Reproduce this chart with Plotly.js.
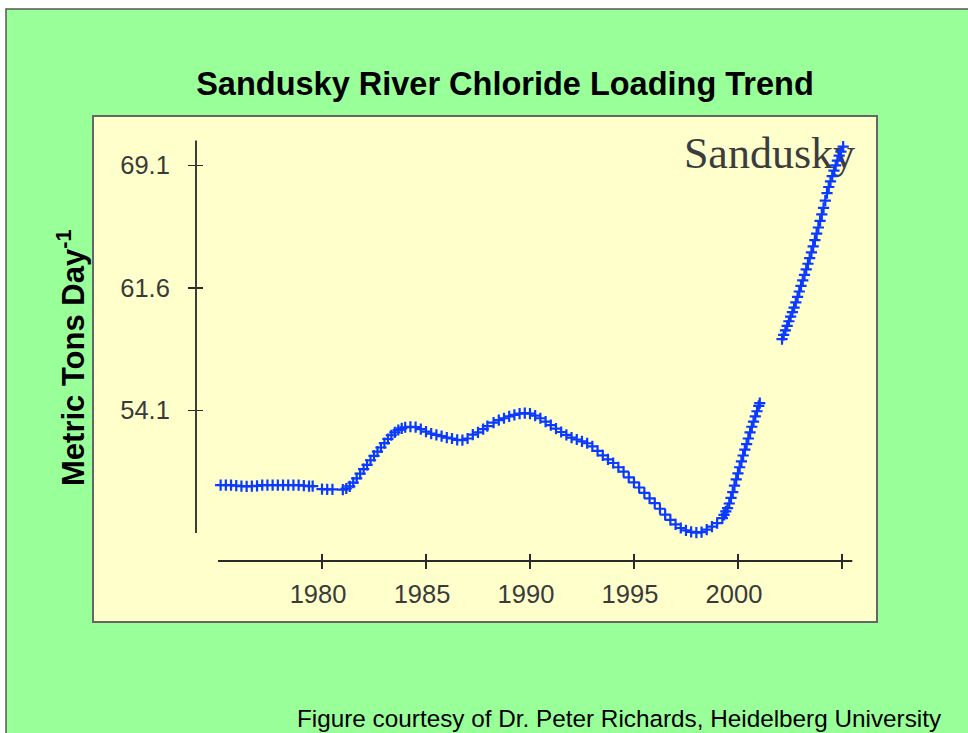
<!DOCTYPE html>
<html>
<head>
<meta charset="utf-8">
<script src="https://cdn.plot.ly/plotly-3.0.1.min.js"></script>
<style>html,body{margin:0;padding:0;background:#fff;}#chart{width:968px;height:733px;}</style>
</head>
<body>
<div id="chart"></div>
<script>
// ---- data ----
const years = [
  1975.125,1975.375,1975.625,1975.875,1976.125,1976.375,1976.625,1976.875,
  1977.125,1977.375,1977.625,1977.875,1978.125,1978.375,1978.625,1978.875,
  1979.125,1979.375,1979.55,
  1980.0,1980.25,1980.5,
  1981.0,1981.167,1981.333,1981.5,1981.667,1981.833,1982.0,1982.167,1982.333,
  1982.5,1982.667,1982.833,1983.0,1983.167,1983.333,1983.5,1983.667,1983.833,
  1984.0,1984.25,1984.5,1984.75,
  1985.0,1985.25,1985.5,1985.75,1986.0,1986.25,1986.5,1986.75,
  1987.0,1987.25,1987.5,1987.75,1987.95,
  1988.25,1988.5,1988.75,1989.0,1989.25,1989.5,1989.75,
  1990.0,1990.25,1990.5,1990.75,1991.0,1991.25,1991.5,1991.75,
  1992.0,1992.25,1992.5,1992.75,1993.0,1993.25,1993.5,1993.75,
  1994.0,1994.25,1994.5,1994.75,1995.0,1995.25,1995.5,1995.75,
  1996.0,1996.25,1996.5,1996.75,1997.0,1997.25,1997.5,1997.75,
  1998.0,1998.25,1998.5,1998.75,1999.0,
  1999.25,1999.333,1999.417,1999.5,1999.583,1999.667,1999.75,1999.833,1999.917,
  2000.0,2000.083,2000.167,2000.25,2000.333,2000.417,2000.5,2000.583,2000.667,
  2000.75,2000.833,2000.917,2001.0,2001.05,
  2002.12,2002.2,2002.283,2002.367,2002.45,2002.533,2002.617,2002.7,2002.783,
  2002.867,2002.95,2003.033,2003.117,2003.2,2003.283,2003.367,2003.45,2003.533,
  2003.617,2003.7,2003.783,2003.867,2003.95,2004.033,2004.117,2004.2,2004.283,
  2004.367,2004.45,2004.533,2004.617,2004.7,2004.783,2004.867,2004.95,2005.06
];
const chloride = [
  49.53,49.53,49.52,49.50,49.46,49.45,49.46,49.48,
  49.52,49.53,49.53,49.52,49.53,49.53,49.52,49.52,
  49.50,49.47,49.46,
  49.28,49.27,49.27,
  49.25,49.32,49.45,49.68,49.94,50.23,50.50,50.77,51.05,
  51.32,51.58,51.83,52.10,52.35,52.58,52.76,52.90,53.00,
  53.07,53.10,53.08,52.95,
  52.80,52.68,52.60,52.52,52.44,52.38,52.30,52.28,
  52.38,52.62,52.76,52.95,53.14,
  53.35,53.50,53.62,53.74,53.83,53.90,53.94,
  53.90,53.78,53.62,53.42,53.20,52.98,52.78,52.60,
  52.44,52.32,52.20,52.09,51.90,51.62,51.35,51.10,
  50.88,50.62,50.35,50.00,49.70,49.38,49.05,48.72,
  48.42,48.08,47.72,47.40,47.12,46.90,46.76,46.66,
  46.62,46.65,46.80,46.98,47.20,
  47.50,47.70,47.92,48.12,48.40,48.75,49.10,49.50,49.88,
  50.25,50.62,50.98,51.34,51.70,52.04,52.38,52.75,53.10,
  53.42,53.74,54.05,54.38,54.55,
  58.46,58.72,59.00,59.28,59.56,59.84,60.12,60.40,60.72,
  61.05,61.38,61.72,62.06,62.40,62.74,63.08,63.43,63.78,
  64.15,64.53,64.92,65.30,65.70,66.10,66.50,66.95,67.40,
  67.78,68.12,68.45,68.78,69.10,69.40,69.70,69.95,70.25
];
const xTickVals = [1980, 1985, 1990, 1995, 2000, 2005];
const xTickText = ['1980', '1985', '1990', '1995', '2000', ''];
const yTickVals = [54.1, 61.6, 69.1];
const yTickText = ['54.1', '61.6', '69.1'];
const chartTitle = 'Sandusky River Chloride Loading Trend';
const yTitle = 'Metric Tons Day<sup>-1</sup>';
const panelLabel = 'Sandusky';
const caption = 'Figure courtesy of Dr. Peter Richards, Heidelberg University';

// ---- geometry (pixels) ----
const W = 968, H = 733;
const L = 196, R = 870, T = 130, B = 561;
const pw = R - L, ph = B - T;
const px = v => (v - L) / pw;          // pixel x -> paper x
const py = v => (B - v) / ph;          // pixel y -> paper y

const xRange = [1973.94, 2006.35];
const yRange = [44.88, 71.27];
const axisCol = '#2a2a2a';
const tickFont = {family: 'Liberation Sans, Arial, sans-serif', size: 25.5, color: '#3a3a3a'};

const traces = [
  {
    x: [2005.63], y: [69.62], mode: 'text', text: [panelLabel],
    textposition: 'middle left',
    textfont: {family: 'Liberation Serif, Times New Roman, serif', size: 44, color: '#3c3c3c'},
    hoverinfo: 'skip', showlegend: false
  },
  {
    x: years, y: chloride, mode: 'markers', type: 'scatter',
    marker: {symbol: 'cross-thin', size: 8, color: '#0a3aff', line: {width: 2.2, color: '#0a3aff'}},
    showlegend: false
  },
  {x: [], y: [], xaxis: 'x2', yaxis: 'y2', mode: 'markers', showlegend: false, hoverinfo: 'skip'}
];

const layout = {
  width: W, height: H,
  margin: {l: L, r: W - R, t: T, b: H - B, pad: 0},
  paper_bgcolor: '#ffffff',
  plot_bgcolor: 'rgba(0,0,0,0)',
  showlegend: false,
  title: {
    text: '<b>' + chartTitle + '</b>',
    font: {family: 'Liberation Sans, Arial, sans-serif', size: 32.5, color: '#000'},
    xref: 'container', yref: 'container', x: 505 / W, y: 1 - 84 / H,
    xanchor: 'center', yanchor: 'middle'
  },
  xaxis: {
    range: xRange, showgrid: false, zeroline: false, showline: false,
    tickmode: 'array', tickvals: xTickVals, ticktext: xTickText,
    ticks: 'outside', ticklen: 7, tickwidth: 1.6, tickcolor: axisCol,
    tickfont: tickFont, ticklabelstandoff: 3, ticklabelshift: -4, fixedrange: true
  },
  yaxis: {
    range: yRange, showgrid: false, zeroline: false, showline: false,
    tickmode: 'array', tickvals: yTickVals, ticktext: yTickText,
    ticks: 'outside', ticklen: 7, tickwidth: 1.6, tickcolor: axisCol,
    tickfont: tickFont, ticklabelstandoff: 13, fixedrange: true
  },
  xaxis2: {
    overlaying: 'x', anchor: 'y2', side: 'bottom', range: xRange,
    showgrid: false, zeroline: false, showline: false,
    tickmode: 'array', tickvals: xTickVals, ticks: 'inside', ticklen: 7,
    tickwidth: 1.6, tickcolor: axisCol, showticklabels: false
  },
  yaxis2: {
    overlaying: 'y', anchor: 'x2', side: 'left', range: yRange,
    showgrid: false, zeroline: false, showline: false,
    tickmode: 'array', tickvals: yTickVals, ticks: 'inside', ticklen: 7,
    tickwidth: 1.6, tickcolor: axisCol, showticklabels: false
  },
  shapes: [
    // green slide background with thin border
    {type: 'rect', xref: 'paper', yref: 'paper', layer: 'below',
     x0: px(6), x1: px(990), y0: py(760), y1: py(9),
     fillcolor: '#99ff99', line: {color: '#555555', width: 1.5}},
    // pale yellow panel
    {type: 'rect', xref: 'paper', yref: 'paper', layer: 'below',
     x0: px(93), x1: px(877), y0: py(622), y1: py(116),
     fillcolor: '#ffffcc', line: {color: '#666666', width: 2}},
    // detached x axis line
    {type: 'line', xref: 'x', yref: 'paper', x0: 1975, x1: 2005.5, y0: 0, y1: 0,
     line: {color: axisCol, width: 1.8}},
    // detached y axis line
    {type: 'line', xref: 'paper', yref: 'y', x0: 0, x1: 0, y0: 46.6, y1: 70.62,
     line: {color: axisCol, width: 1.8}}
  ],
  annotations: [
    {text: '<b>' + yTitle + '</b>', xref: 'paper', yref: 'paper',
     x: px(71), y: py(358), xanchor: 'center', yanchor: 'middle', textangle: -90,
     showarrow: false, font: {family: 'Liberation Sans, Arial, sans-serif', size: 31, color: '#000'}},
    {text: caption, xref: 'paper', yref: 'paper',
     x: px(295), y: py(718), xanchor: 'left', yanchor: 'middle',
     showarrow: false, font: {family: 'Liberation Sans, Arial, sans-serif', size: 24.3, color: '#000'}}
  ]
};

Plotly.newPlot('chart', traces, layout, {staticPlot: true, displayModeBar: false});
</script>
</body>
</html>
